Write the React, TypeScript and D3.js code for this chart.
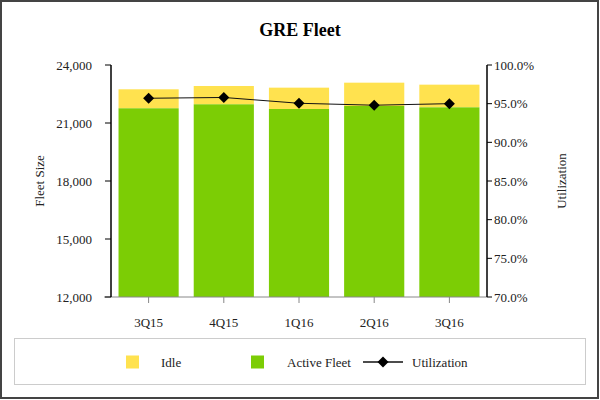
import React from "react";
import * as d3 from "d3";

const categories = ["3Q15", "4Q15", "1Q16", "2Q16", "3Q16"];
const activeFleet = [21760, 21967, 21724, 21879, 21810];
const idle = [983, 947, 1104, 1207, 1173];
const utilization = [95.7, 95.8, 95.05, 94.8, 95.0];
const leftTicks = [12000, 15000, 18000, 21000, 24000];
const rightTicks = [70, 75, 80, 85, 90, 95, 100];

const W = 600, H = 400;
const L = 111, R = 487, T = 65, B = 297;
const FONT = "'Liberation Serif', 'Times New Roman', serif";
const YELLOW = "#FFE24F";
const GREEN = "#7CCD05";

export default function App() {
  const x = d3.scaleBand<string>().domain(categories).range([L, R]).paddingInner(0.2).paddingOuter(0.1);
  const y = d3.scaleLinear().domain([12000, 24000]).range([B, T]);
  const y2 = d3.scaleLinear().domain([70, 100]).range([B, T]);
  const fmt = d3.format(",");
  const line = d3.line<number>()
    .x((_, i) => (x(categories[i]) as number) + x.bandwidth() / 2)
    .y((d) => y2(d));
  const diamond = (cx: number, cy: number, r: number) =>
    `M${cx},${cy - r}L${cx + r},${cy}L${cx},${cy + r}L${cx - r},${cy}Z`;

  return (
    <svg width={W} height={H} style={{ position: "absolute", left: 0, top: 0, background: "#fff" }} fontFamily={FONT}>
      <rect x={1} y={1} width={597} height={397} fill="#fff" stroke="#444" strokeWidth={2} />
      <text x={300} y={36} textAnchor="middle" fontSize={18} fontWeight="bold" fill="#000">GRE Fleet</text>

      {categories.map((c, i) => (
        <g key={c}>
          <rect x={x(c)} width={x.bandwidth()} y={y(activeFleet[i] + idle[i])} height={y(activeFleet[i]) - y(activeFleet[i] + idle[i])} fill={YELLOW} />
          <rect x={x(c)} width={x.bandwidth()} y={y(activeFleet[i])} height={B - y(activeFleet[i])} fill={GREEN} />
        </g>
      ))}

      {/* x axis */}
      <line x1={104} x2={R} y1={B} y2={B} stroke="#888" strokeWidth={1} />
      {categories.map((c) => {
        const cx = (x(c) as number) + x.bandwidth() / 2;
        return (
          <g key={c}>
            <line x1={cx} x2={cx} y1={B} y2={B + 6} stroke="#888" />
            <text x={cx} y={B + 30} textAnchor="middle" fontSize={13} fill="#222">{c}</text>
          </g>
        );
      })}

      {/* left axis */}
      <line x1={L} x2={L} y1={T} y2={B} stroke="#000" strokeWidth={1.5} />
      {leftTicks.map((t) => (
        <g key={t}>
          <line x1={L - 6} x2={L} y1={y(t)} y2={y(t)} stroke="#000" />
          <text x={L - 19} y={y(t) + 4.5} textAnchor="end" fontSize={13} fill="#222">{fmt(t)}</text>
        </g>
      ))}
      <text transform={`translate(44,${(T + B) / 2}) rotate(-90)`} textAnchor="middle" fontSize={13} fill="#222">Fleet Size</text>

      {/* right axis */}
      <line x1={R} x2={R} y1={T} y2={B} stroke="#000" strokeWidth={1.5} />
      {rightTicks.map((t) => (
        <g key={t}>
          <line x1={R} x2={R + 5} y1={y2(t)} y2={y2(t)} stroke="#000" />
          <text x={R + 7} y={y2(t) + 4.5} textAnchor="start" fontSize={13} fill="#222">{t.toFixed(1)}%</text>
        </g>
      ))}
      <text transform={`translate(566,${(T + B) / 2}) rotate(-90)`} textAnchor="middle" fontSize={13} fill="#222">Utilization</text>

      {/* utilization line */}
      <path d={line(utilization) || ""} fill="none" stroke="#111" strokeWidth={1} />
      {utilization.map((u, i) => (
        <path key={i} d={diamond((x(categories[i]) as number) + x.bandwidth() / 2, y2(u), 5.5)} fill="#000" />
      ))}

      {/* legend */}
      <rect x={14.5} y={338.5} width={571} height={46} fill="#fff" stroke="#ccc" strokeWidth={1} />
      <rect x={126} y={355.5} width={13} height={13} fill={YELLOW} />
      <text x={161} y={366.5} fontSize={13} fill="#222">Idle</text>
      <rect x={251} y={355.5} width={13} height={13} fill={GREEN} />
      <text x={287} y={366.5} fontSize={13} fill="#222">Active Fleet</text>
      <line x1={363} x2={403} y1={362} y2={362} stroke="#111" strokeWidth={1.5} />
      <path d={diamond(383, 362, 5.5)} fill="#000" />
      <text x={412} y={366.5} fontSize={13} fill="#222">Utilization</text>
    </svg>
  );
}
